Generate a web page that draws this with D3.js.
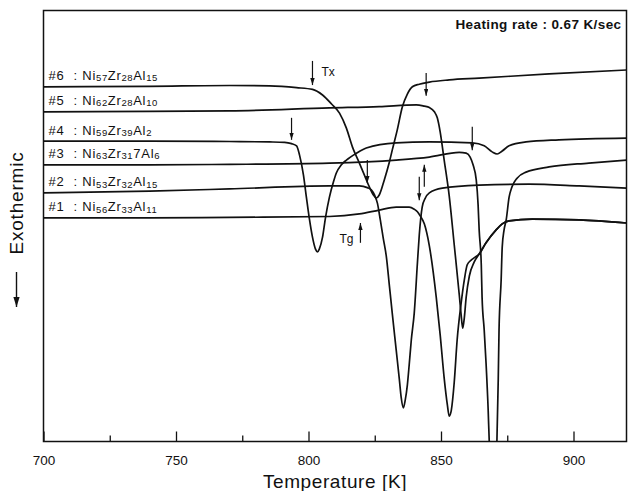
<!DOCTYPE html>
<html>
<head>
<meta charset="utf-8">
<script src="https://cdn.jsdelivr.net/npm/d3@7"></script>
<style>
  body { margin: 0; background: #fff; }
  svg { display: block; font-family: "Liberation Sans", Arial, Helvetica, sans-serif; }
</style>
</head>
<body>
<div id="chart"></div>
<script>
// DSC traces: temperature [K] and signal in arbitrary units
// (0 = bottom of the frame, 100 = top). Exothermic is downwards.
const s6Temp = [700, 740.1, 770.2, 785.3, 795.5, 801.5, 805.3, 808.7, 811.7, 814.3, 816.6, 819.2, 821.1, 823.0, 824.5, 825.6, 826.7, 828.6, 830.5, 831.6, 833.5, 835.4, 837.3, 839.2, 841.8, 845.6, 853.1, 864.4, 890.8, 920];
const s6Sig = [82.3, 82.4, 82.6, 82.5, 82.1, 81.7, 80.4, 78.3, 76.2, 72.7, 68.3, 64.6, 61.8, 59.0, 57.2, 56.5, 57.2, 60.7, 64.8, 67.6, 72.3, 77.6, 80.6, 82.3, 82.9, 83.4, 83.9, 84.3, 85.3, 86.2];

const s5Temp = [700, 740.1, 770.2, 807.9, 826.7, 840.7, 843.7, 845.6, 847.5, 848.6, 849.7, 851.2, 853.1, 855.0, 856.9, 857.6, 858.2, 858.8, 859.5, 860.7, 862.5, 864.4, 867.0, 870.8, 873.1, 875.7, 884.4, 902.1, 920];
const s5Sig = [76.5, 76.6, 76.7, 77.4, 77.7, 78.1, 77.8, 77.5, 76.5, 75.1, 71.8, 65.3, 57.0, 45.6, 34.0, 29.4, 26.3, 28.7, 33.5, 38.4, 41.6, 43.5, 46.1, 49.1, 50.5, 51.2, 51.6, 51.4, 50.7];

const s4Temp = [700, 740.1, 770.2, 785.3, 791.0, 793.6, 795.5, 796.6, 798.1, 799.2, 800.4, 801.5, 802.6, 803.4, 804.1, 805.3, 806.4, 807.9, 809.4, 810.5, 812.4, 814.3, 818.1, 821.8, 833.1, 845.6, 861.8, 866.3, 869.3, 871.2, 873.1, 875.7, 882.1, 894.5, 920];
const s4Sig = [69.7, 69.7, 69.6, 69.5, 69.4, 69.1, 68.6, 66.5, 61.8, 56.7, 51.4, 47.4, 44.7, 44.0, 44.7, 47.4, 51.9, 56.7, 60.2, 62.3, 64.2, 65.3, 66.9, 68.1, 69.3, 69.5, 69.3, 68.6, 67.2, 66.7, 67.4, 68.6, 69.5, 70.0, 70.4];

const s3Temp = [700, 740.1, 770.2, 807.9, 833.1, 845.6, 856.9, 859.5, 861.0, 862.1, 863.3, 864.0, 864.4, 865.2, 865.5, 866.3, 867.0, 867.8, 868.2, 868.9, 869.7, 870.4, 871.1, 871.6, 871.9, 872.7, 873.1, 873.8, 874.6, 875.7, 876.8, 878.7, 882.1, 890.8, 905.8, 920];
const s3Sig = [64.2, 64.2, 64.3, 64.6, 65.3, 66.0, 67.1, 66.9, 66.0, 64.2, 60.7, 54.9, 49.1, 41.0, 33.5, 25.9, 18.2, 7.3, 0.1, -6.6, -8.9, -6.6, 0.1, 14.3, 25.9, 37.5, 45.1, 49.1, 51.4, 56.7, 59.1, 61.1, 62.5, 63.7, 64.6, 65.3];

const s2Temp = [700, 740.1, 770.2, 807.9, 819.2, 822.2, 823.7, 824.9, 826.0, 827.1, 828.2, 829.4, 830.5, 831.6, 833.1, 834.3, 835.0, 835.8, 836.5, 837.3, 838.0, 838.8, 839.9, 841.1, 841.8, 842.9, 844.1, 845.6, 850.5, 864.4, 883.2, 902.1, 920];
const s2Sig = [57.7, 58.1, 58.6, 59.3, 59.3, 58.9, 58.4, 57.2, 55.3, 51.4, 47.2, 42.8, 36.3, 29.8, 21.2, 14.3, 10.1, 7.8, 9.6, 13.1, 17.8, 23.6, 29.8, 41.4, 47.9, 54.4, 56.5, 57.7, 58.8, 59.5, 59.7, 59.3, 58.8];

const s1Temp = [700, 740.1, 770.2, 807.9, 819.2, 826.7, 833.1, 838.0, 839.9, 841.1, 842.2, 843.7, 845.6, 848.2, 849.7, 851.2, 852.4, 853.1, 853.9, 855.0, 856.1, 857.6, 858.8, 859.9, 861.4, 862.5, 864.4, 867.0, 870.8, 873.1, 875.7, 884.4, 902.1, 920];
const s1Sig = [51.9, 51.9, 52.0, 52.2, 52.8, 53.7, 54.4, 54.4, 53.9, 53.3, 52.3, 50.5, 45.4, 33.5, 24.7, 14.7, 8.5, 5.9, 7.3, 13.8, 23.6, 32.1, 37.5, 41.0, 42.1, 42.6, 43.5, 46.1, 49.1, 50.5, 51.2, 51.6, 51.4, 50.7];

// sample labels: even entries normal text, odd entries subscripts
const labelParts = [
  ["#6  : Ni", "57", "Zr", "28", "Al", "15"],
  ["#5  : Ni", "62", "Zr", "28", "Al", "10"],
  ["#4  : Ni", "59", "Zr", "39", "Al", "2"],
  ["#3  : Ni", "63", "Zr", "31", "7Al", "6"],
  ["#2  : Ni", "53", "Zr", "32", "Al", "15"],
  ["#1  : Ni", "56", "Zr", "33", "Al", "11"],
];

// Tx (down) and Tg (up) arrows: temperature, tail and head in signal units
const txArrows = [
  { temp: 801.5, from: 88.3, to: 82.7 },
  { temp: 844.4, from: 85.5, to: 80.2 },
  { temp: 793.6, from: 75.1, to: 70.0 },
  { temp: 861.8, from: 73.0, to: 67.6 },
  { temp: 822.2, from: 65.3, to: 60.0 },
  { temp: 841.8, from: 61.4, to: 56.0 },
];
const tgArrows = [
  { temp: 819.6, from: 46.1, to: 50.7 },
  { temp: 843.7, from: 59.1, to: 64.2 },
];

const majorTicks = [700, 750, 800, 850, 900];
const minorTicks = [725, 775, 825, 875];

const margin = { top: 10.5, right: 5.5, bottom: 49.5, left: 43.5 };
const width = 632 - margin.left - margin.right;
const height = 491 - margin.top - margin.bottom;

const series = [
  { temp: s6Temp, signal: s6Sig, label: labelParts[0] },
  { temp: s5Temp, signal: s5Sig, label: labelParts[1] },
  { temp: s4Temp, signal: s4Sig, label: labelParts[2] },
  { temp: s3Temp, signal: s3Sig, label: labelParts[3] },
  { temp: s2Temp, signal: s2Sig, label: labelParts[4] },
  { temp: s1Temp, signal: s1Sig, label: labelParts[5] },
];

const x = d3.scaleLinear().domain([700, 920]).range([0, width]);
const y = d3.scaleLinear().domain([0, 100]).range([height, 0]);

const svg = d3
  .select("#chart")
  .append("svg")
  .attr("width", 632)
  .attr("height", 491);

const defs = svg.append("defs");
defs
  .append("clipPath")
  .attr("id", "plot-clip")
  .append("rect")
  .attr("width", width)
  .attr("height", height);

defs
  .append("marker")
  .attr("id", "head")
  .attr("viewBox", "0 0 8 5")
  .attr("refX", 8)
  .attr("refY", 2.5)
  .attr("markerWidth", 7)
  .attr("markerHeight", 4.5)
  .attr("markerUnits", "userSpaceOnUse")
  .attr("orient", "auto")
  .append("path")
  .attr("d", "M0,0L8,2.5L0,5Z")
  .attr("fill", "#111");

defs
  .append("marker")
  .attr("id", "big-head")
  .attr("viewBox", "0 0 8 5")
  .attr("refX", 8)
  .attr("refY", 2.5)
  .attr("markerWidth", 10)
  .attr("markerHeight", 7)
  .attr("markerUnits", "userSpaceOnUse")
  .attr("orient", "auto")
  .append("path")
  .attr("d", "M0,0L8,2.5L0,5Z")
  .attr("fill", "#111");

const chart = svg
  .append("g")
  .attr("transform", `translate(${margin.left},${margin.top})`);

// inward ticks on the bottom edge
const xAxis = d3
  .axisBottom(x)
  .tickValues(majorTicks)
  .tickSizeInner(-10)
  .tickSizeOuter(0)
  .tickPadding(14)
  .tickFormat(d3.format("d"));

const xMinor = d3
  .axisBottom(x)
  .tickValues(minorTicks)
  .tickSizeInner(-6)
  .tickSizeOuter(0)
  .tickFormat("");

const axisG = chart
  .append("g")
  .attr("transform", `translate(0,${height})`)
  .call(xAxis);
axisG.select(".domain").remove();
axisG.selectAll(".tick line").attr("stroke", "#111").attr("stroke-width", 1.3);
axisG
  .selectAll(".tick text")
  .attr("fill", "#111")
  .style("font-size", "13.5px")
  .style("font-family", "'Liberation Sans', Arial, sans-serif");

const minorG = chart
  .append("g")
  .attr("transform", `translate(0,${height})`)
  .call(xMinor);
minorG.select(".domain").remove();
minorG.selectAll(".tick line").attr("stroke", "#111").attr("stroke-width", 1.3);

// traces
const line = d3
  .line()
  .x((d) => x(d[0]))
  .y((d) => y(d[1]))
  .curve(d3.curveMonotoneX);

chart
  .append("g")
  .attr("clip-path", "url(#plot-clip)")
  .selectAll("path")
  .data(series)
  .join("path")
  .attr("d", (s) => line(s.temp.map((t, i) => [t, s.signal[i]])))
  .attr("fill", "none")
  .attr("stroke", "#111")
  .attr("stroke-width", 1.7)
  .attr("stroke-linejoin", "round");

// sample labels sit just above the left end of each trace
const labels = chart
  .append("g")
  .selectAll("text")
  .data(series)
  .join("text")
  .attr("x", 5)
  .attr("y", (s) => y(s.signal[0]) - 6.5)
  .style("white-space", "pre")
  .attr("fill", "#111");

labels.each(function (s) {
  const t = d3.select(this);
  s.label.forEach((part, i) => {
    const sub = i % 2 === 1;
    t.append("tspan")
      .attr("dy", sub ? 1.2 : i === 0 ? 0 : -1.2)
      .style("font-size", sub ? "9.5px" : "13px")
      .style("letter-spacing", sub ? "0.5px" : "0.8px")
      .text(part);
  });
});

// Tx / Tg arrows
chart
  .append("g")
  .selectAll("line")
  .data(txArrows.concat(tgArrows))
  .join("line")
  .attr("x1", (d) => x(d.temp))
  .attr("x2", (d) => x(d.temp))
  .attr("y1", (d) => y(d.from))
  .attr("y2", (d) => y(d.to))
  .attr("stroke", "#111")
  .attr("stroke-width", 1.2)
  .attr("marker-end", "url(#head)");

chart
  .append("text")
  .attr("x", x(804.9))
  .attr("y", y(85.7))
  .attr("dy", "0.35em")
  .style("font-size", "12px")
  .attr("fill", "#111")
  .text("Tx");

chart
  .append("text")
  .attr("x", x(811.7))
  .attr("y", y(47.0))
  .attr("dy", "0.35em")
  .style("font-size", "12px")
  .attr("fill", "#111")
  .text("Tg");

chart
  .append("text")
  .attr("x", width - 5)
  .attr("y", 14)
  .attr("dy", "0.35em")
  .attr("text-anchor", "end")
  .style("font-size", "13.5px")
  .style("font-weight", "bold")
  .style("letter-spacing", "0.4px")
  .attr("fill", "#111")
  .text("Heating rate : 0.67 K/sec");

// frame
chart
  .append("rect")
  .attr("width", width)
  .attr("height", height)
  .attr("fill", "none")
  .attr("stroke", "#111")
  .attr("stroke-width", 1.5);

// axis titles
svg
  .append("text")
  .attr("x", margin.left + width / 2)
  .attr("y", 481)
  .attr("dy", "0.35em")
  .attr("text-anchor", "middle")
  .style("font-size", "19px")
  .style("letter-spacing", "0.6px")
  .attr("fill", "#111")
  .text("Temperature [K]");

svg
  .append("text")
  .attr("transform", "translate(23,203) rotate(-90)")
  .attr("text-anchor", "middle")
  .style("font-size", "19px")
  .style("letter-spacing", "0.8px")
  .attr("fill", "#111")
  .text("Exothermic");

svg
  .append("line")
  .attr("x1", 16.5)
  .attr("x2", 16.5)
  .attr("y1", 272)
  .attr("y2", 307)
  .attr("stroke", "#111")
  .attr("stroke-width", 1.4)
  .attr("marker-end", "url(#big-head)");
</script>
</body>
</html>
